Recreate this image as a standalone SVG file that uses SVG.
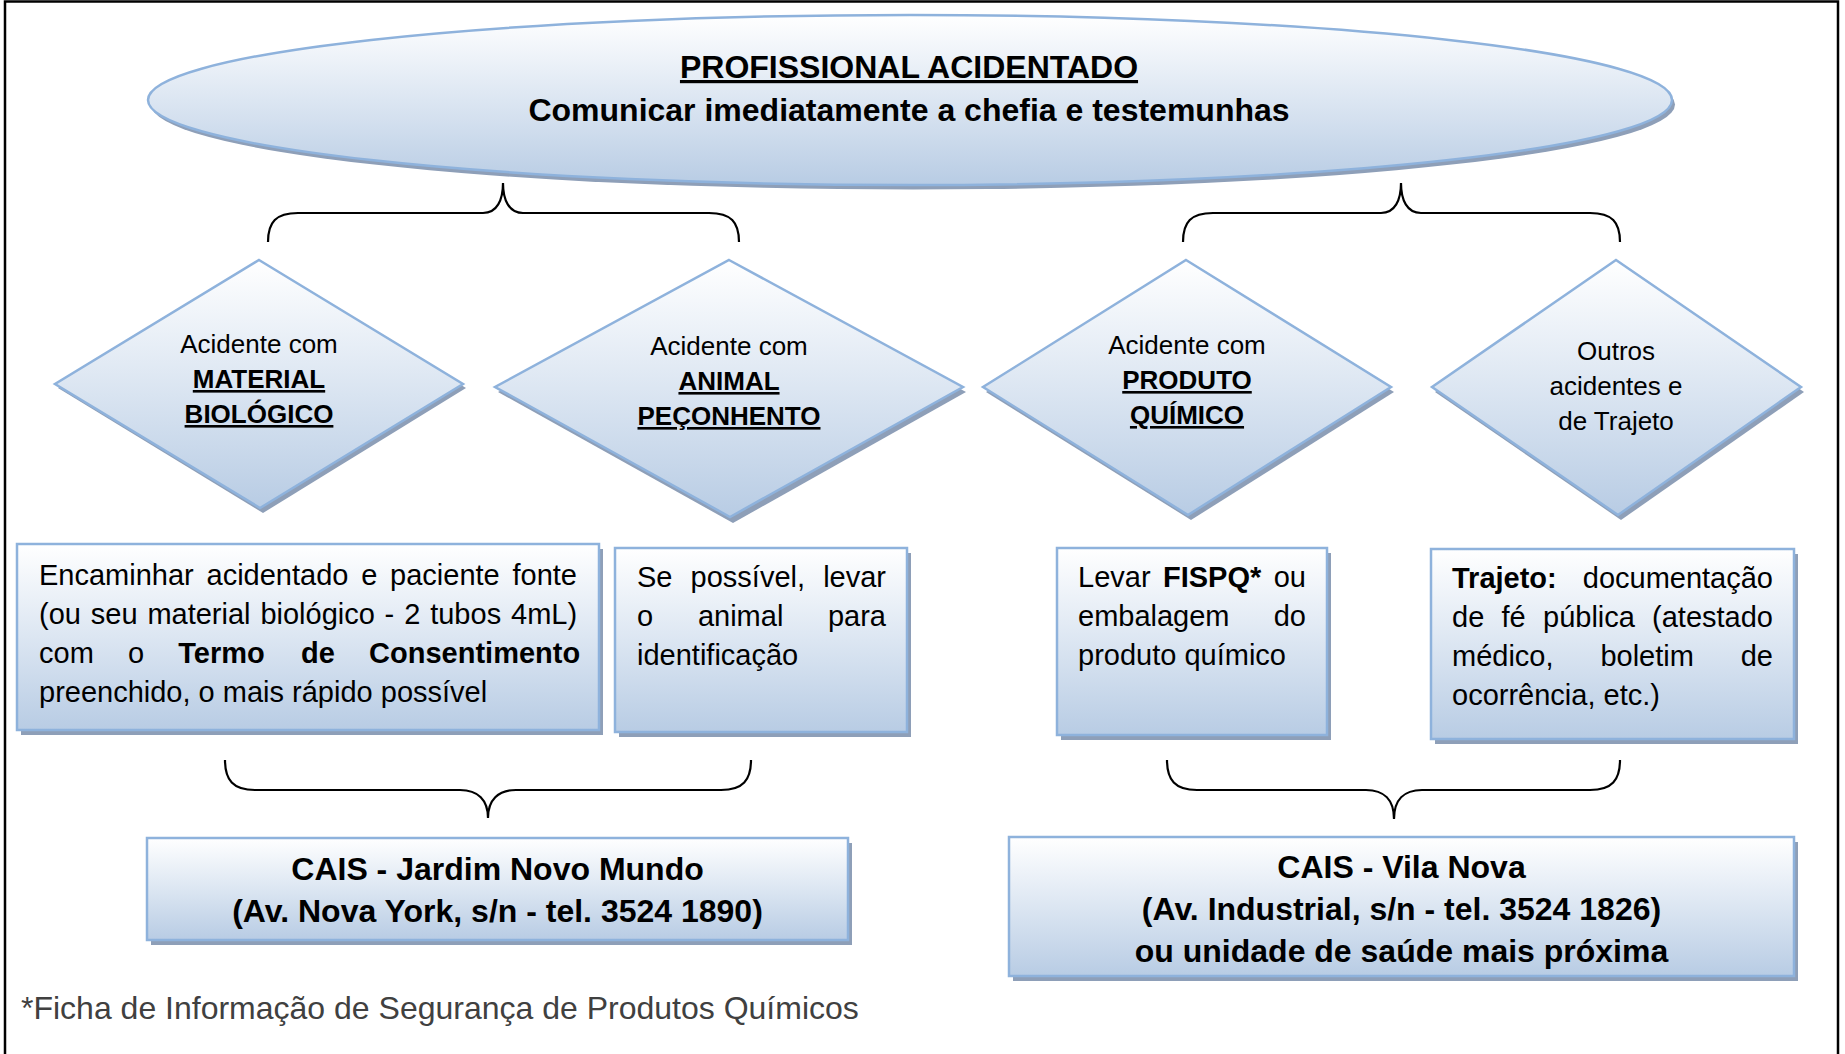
<svg xmlns="http://www.w3.org/2000/svg" width="1845" height="1054" viewBox="0 0 1845 1054">
<defs>
<linearGradient id="grad" x1="0" y1="0" x2="0" y2="1">
<stop offset="0" stop-color="#ffffff"/>
<stop offset="0.5" stop-color="#dce6f2"/>
<stop offset="1" stop-color="#b8cce4"/>
</linearGradient>
</defs>
<style>
.shape{fill:url(#grad);stroke:#8eb2dc;stroke-width:2.5}
.shadow{fill:#8e9fb8;stroke:none}
.brace{fill:none;stroke:#000;stroke-width:2.2}
text{font-family:"Liberation Sans",Arial,sans-serif;fill:#000}
.d{font-size:26px;text-anchor:middle}
.db{font-size:26px;text-anchor:middle;font-weight:bold;text-decoration:underline}
.r{font-size:29px}
.re{font-size:29px;text-anchor:end}
.b{font-weight:bold}
.c{font-size:32px;font-weight:bold;text-anchor:middle}
</style>
<rect x="5" y="1.5" width="1833" height="1100" fill="#ffffff" stroke="#000" stroke-width="2.5"/>

<g id="top-ellipse">
<ellipse class="shadow" cx="913" cy="104.5" rx="762" ry="85"/>
<ellipse class="shape" cx="910" cy="100" rx="762" ry="85"/>
<text x="909" y="78" class="c" style="text-decoration:underline">PROFISSIONAL ACIDENTADO</text>
<text x="909" y="121" class="c">Comunicar imediatamente a chefia e testemunhas</text>
</g>

<g id="connectors">
<path class="brace" d="M268,242 C268,222 276,213 298,213 L483,213 C497,213 503,200 503,183 C503,200 509,213 523,213 L709,213 C731,213 739,222 739,242"/>
<path class="brace" d="M1183,242 C1183,222 1191,213 1213,213 L1381,213 C1395,213 1401,200 1401,183 C1401,200 1407,213 1421,213 L1590,213 C1612,213 1620,222 1620,242"/>
<path class="brace" d="M225,760 C225,780 233,790 255,790 L460,790 C478,790 488,800 488,818 C488,800 498,790 516,790 L721,790 C743,790 751,780 751,760"/>
<path class="brace" d="M1167,760 C1167,780 1175,790 1197,790 L1366,790 C1384,790 1394,800 1394,819 C1394,800 1404,790 1422,790 L1590,790 C1612,790 1620,780 1620,760"/>
</g>

<g id="d-material">
<polygon class="shadow" points="262,265 466,388 263,513 58,388"/>
<polygon class="shape" points="259,260 463,384 260,508 55,384"/>
<text x="259" y="353" class="d">Acidente com</text>
<text x="259" y="388" class="db">MATERIAL</text>
<text x="259" y="423" class="db">BIOLÓGICO</text>
</g>

<g id="d-animal">
<polygon class="shadow" points="732,265 966,392 733,523 498,392"/>
<polygon class="shape" points="729,260 963,387 730,517 495,387"/>
<text x="729" y="355" class="d">Acidente com</text>
<text x="729" y="390" class="db">ANIMAL</text>
<text x="729" y="425" class="db">PEÇONHENTO</text>
</g>

<g id="d-produto">
<polygon class="shadow" points="1189,265 1394,392 1191,520 986,392"/>
<polygon class="shape" points="1186,260 1391,387 1188,515 983,387"/>
<text x="1187" y="354" class="d">Acidente com</text>
<text x="1187" y="389" class="db">PRODUTO</text>
<text x="1187" y="424" class="db">QUÍMICO</text>
</g>

<g id="d-outros">
<polygon class="shadow" points="1619,265 1804,392 1621,520 1435,392"/>
<polygon class="shape" points="1616,260 1801,387 1618,515 1432,387"/>
<text x="1616" y="360" class="d">Outros</text>
<text x="1616" y="395" class="d">acidentes e</text>
<text x="1616" y="430" class="d">de Trajeto</text>
</g>

<g id="r-biologico">
<rect class="shadow" x="21" y="549" width="582" height="186"/>
<rect class="shape" x="17" y="544" width="582" height="186"/>
<text class="r" y="585"><tspan x="39">Encaminhar</tspan><tspan x="206.5">acidentado</tspan><tspan x="361.2">e</tspan><tspan x="390.1">paciente</tspan><tspan x="512.5">fonte</tspan></text>
<text class="r" y="624"><tspan x="39">(ou</tspan><tspan x="90.8">seu</tspan><tspan x="147.4">material</tspan><tspan x="260.4">biológico</tspan><tspan x="384.6">-</tspan><tspan x="404.2">2</tspan><tspan x="430.2">tubos</tspan><tspan x="511">4mL)</tspan></text>
<text class="r" y="663"><tspan x="39">com</tspan><tspan x="128">o</tspan><tspan x="178.3" class="b">Termo</tspan><tspan x="301.1" class="b">de</tspan><tspan x="369.1" class="b">Consentimento</tspan></text>
<text class="r" x="39" y="702">preenchido, o mais rápido possível</text>
</g>

<g id="r-animal">
<rect class="shadow" x="619" y="553" width="292" height="184"/>
<rect class="shape" x="615" y="548" width="292" height="184"/>
<text class="r" y="587"><tspan x="637">Se</tspan><tspan x="690.6">possível,</tspan></text>
<text class="re" x="886" y="587">levar</text>
<text class="r" y="626"><tspan x="637">o</tspan><tspan x="697.9">animal</tspan></text>
<text class="re" x="886" y="626">para</text>
<text class="r" x="637" y="665">identificação</text>
</g>

<g id="r-produto">
<rect class="shadow" x="1061" y="553" width="270" height="187"/>
<rect class="shape" x="1057" y="548" width="270" height="187"/>
<text class="r" y="587"><tspan x="1078">Levar</tspan><tspan x="1163" class="b">FISPQ*</tspan></text>
<text class="re" x="1306" y="587">ou</text>
<text class="r" x="1078" y="626">embalagem</text>
<text class="re" x="1306" y="626">do</text>
<text class="r" x="1078" y="665">produto químico</text>
</g>

<g id="r-trajeto">
<rect class="shadow" x="1435" y="554" width="363" height="190"/>
<rect class="shape" x="1431" y="549" width="363" height="190"/>
<text class="r b" x="1452" y="588">Trajeto:</text>
<text class="re" x="1773" y="588">documentação</text>
<text class="r" y="627"><tspan x="1452">de</tspan><tspan x="1501.5">fé</tspan><tspan x="1543">pública</tspan></text>
<text class="re" x="1773" y="627">(atestado</text>
<text class="r" y="666"><tspan x="1452">médico,</tspan><tspan x="1600.4">boletim</tspan></text>
<text class="re" x="1773" y="666">de</text>
<text class="r" x="1452" y="705">ocorrência, etc.)</text>
</g>

<g id="cais-jardim">
<rect class="shadow" x="151" y="843" width="701" height="102"/>
<rect class="shape" x="147" y="838" width="701" height="102"/>
<text class="c" x="497.5" y="880">CAIS - Jardim Novo Mundo</text>
<text class="c" x="497.5" y="922">(Av. Nova York, s/n - tel. 3524 1890)</text>
</g>

<g id="cais-vila">
<rect class="shadow" x="1013" y="842" width="785" height="139"/>
<rect class="shape" x="1009" y="837" width="785" height="139"/>
<text class="c" x="1401.5" y="878">CAIS - Vila Nova</text>
<text class="c" x="1401.5" y="920">(Av. Industrial, s/n - tel. 3524 1826)</text>
<text class="c" x="1401.5" y="962">ou unidade de saúde mais próxima</text>
</g>

<text id="footnote" x="21" y="1019" style="font-size:32px;fill:#404040">*Ficha de Informação de Segurança de Produtos Químicos</text>
</svg>
